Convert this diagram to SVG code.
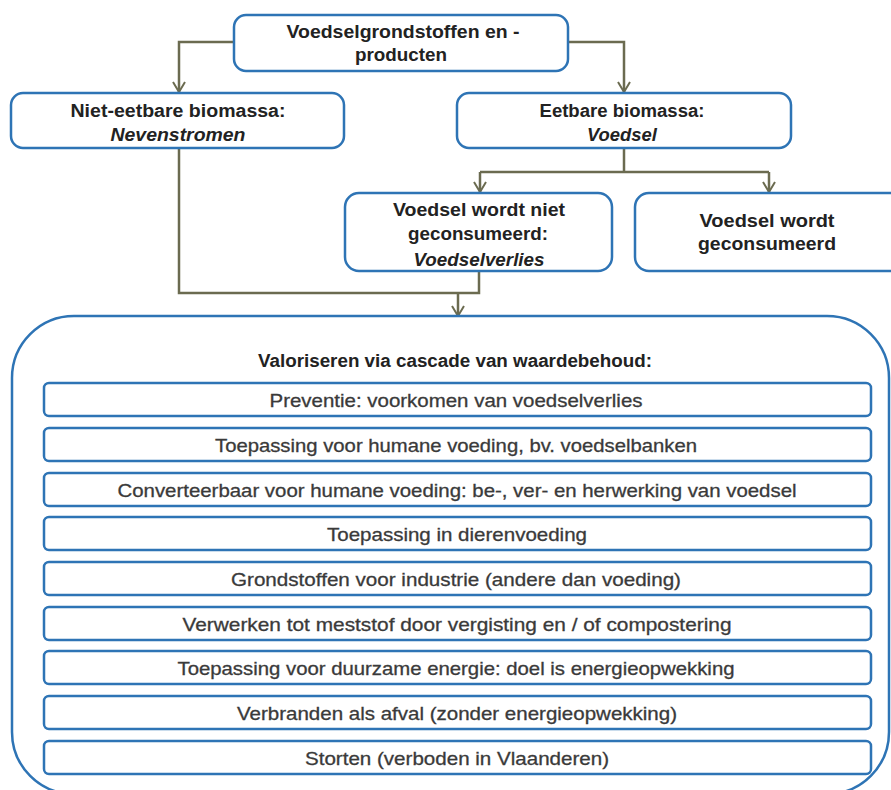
<svg xmlns="http://www.w3.org/2000/svg" width="891" height="790" viewBox="0 0 891 790">
<defs>
<style>
.box{fill:#fff;stroke:#2e74b5;stroke-width:2.5}
.row{fill:#fff;stroke:#2e74b5;stroke-width:2.5}
.hd{font-family:"Liberation Sans",Arial,sans-serif;font-size:18px;font-weight:bold;fill:#222;text-anchor:middle}
.it{font-style:italic}
.rt{font-family:"Liberation Sans",Arial,sans-serif;font-size:18.5px;fill:#3a3a3a;text-anchor:middle;stroke:#3a3a3a;stroke-width:0.3}
.con{fill:none;stroke:#6b6b50;stroke-width:2.5}
</style>
<marker id="arr" viewBox="0 0 12 14" refX="11" refY="7" markerWidth="12" markerHeight="14" markerUnits="userSpaceOnUse" orient="auto">
<path d="M1,1 L11,7 L1,13" fill="none" stroke="#6b6b50" stroke-width="2"/>
</marker>
</defs>
<rect width="891" height="790" fill="#fff"/>

<g id="connectors">
<path class="con" d="M234,42 H179 V92" marker-end="url(#arr)"/>
<path class="con" d="M568,42 H624 V92" marker-end="url(#arr)"/>
<path class="con" d="M624,148 V172"/>
<path class="con" d="M480,172 H769"/>
<path class="con" d="M480,172 V192" marker-end="url(#arr)"/>
<path class="con" d="M769,172 V192" marker-end="url(#arr)"/>
<path class="con" d="M179,148 V293 H479 V271"/>
<path class="con" d="M458,293 V316" marker-end="url(#arr)"/>
</g>

<g id="n-top">
<rect class="box" x="234" y="15" width="334" height="56" rx="12"/>
<text class="hd" x="403" y="38" textLength="233" lengthAdjust="spacingAndGlyphs">Voedselgrondstoffen en -</text>
<text class="hd" x="401" y="61" textLength="92" lengthAdjust="spacingAndGlyphs">producten</text>
</g>

<g id="n-niet-eetbaar">
<rect class="box" x="11" y="93" width="333" height="55" rx="12"/>
<text class="hd" x="178" y="117" textLength="215" lengthAdjust="spacingAndGlyphs">Niet-eetbare biomassa:</text>
<text class="hd it" x="178" y="141" textLength="135" lengthAdjust="spacingAndGlyphs">Nevenstromen</text>
</g>

<g id="n-eetbaar">
<rect class="box" x="457" y="93" width="334" height="55" rx="12"/>
<text class="hd" x="622" y="117" textLength="165" lengthAdjust="spacingAndGlyphs">Eetbare biomassa:</text>
<text class="hd it" x="622" y="141" textLength="70" lengthAdjust="spacingAndGlyphs">Voedsel</text>
</g>

<g id="n-verlies">
<rect class="box" x="345" y="193" width="267" height="78" rx="14"/>
<text class="hd" x="479" y="216" textLength="172" lengthAdjust="spacingAndGlyphs">Voedsel wordt niet</text>
<text class="hd" x="478" y="240" textLength="140" lengthAdjust="spacingAndGlyphs">geconsumeerd:</text>
<text class="hd it" x="479" y="266" textLength="131" lengthAdjust="spacingAndGlyphs">Voedselverlies</text>
</g>

<g id="n-geconsumeerd">
<rect class="box" x="635" y="193" width="270" height="78" rx="14"/>
<text class="hd" x="767" y="227" textLength="135" lengthAdjust="spacingAndGlyphs">Voedsel wordt</text>
<text class="hd" x="767" y="250" textLength="138" lengthAdjust="spacingAndGlyphs">geconsumeerd</text>
</g>

<g id="n-cascade">
<rect class="box" x="12" y="316" width="877" height="478" rx="62"/>
<text class="hd" x="455" y="367" textLength="394" lengthAdjust="spacingAndGlyphs">Valoriseren via cascade van waardebehoud:</text>
</g>

<g id="r1"><rect class="row" x="44" y="383" width="827" height="33" rx="5"/><text class="rt" x="456" y="407" textLength="373" lengthAdjust="spacingAndGlyphs">Preventie: voorkomen van voedselverlies</text></g>
<g id="r2"><rect class="row" x="44" y="428" width="827" height="33" rx="5"/><text class="rt" x="456" y="452" textLength="482" lengthAdjust="spacingAndGlyphs">Toepassing voor humane voeding, bv. voedselbanken</text></g>
<g id="r3"><rect class="row" x="44" y="473" width="827" height="33" rx="5"/><text class="rt" x="457" y="497" textLength="679" lengthAdjust="spacingAndGlyphs">Converteerbaar voor humane voeding: be-, ver- en herwerking van voedsel</text></g>
<g id="r4"><rect class="row" x="44" y="517" width="827" height="33" rx="5"/><text class="rt" x="457" y="541" textLength="260" lengthAdjust="spacingAndGlyphs">Toepassing in dierenvoeding</text></g>
<g id="r5"><rect class="row" x="44" y="562" width="827" height="33" rx="5"/><text class="rt" x="456" y="586" textLength="450" lengthAdjust="spacingAndGlyphs">Grondstoffen voor industrie (andere dan voeding)</text></g>
<g id="r6"><rect class="row" x="44" y="607" width="827" height="33" rx="5"/><text class="rt" x="457" y="631" textLength="549" lengthAdjust="spacingAndGlyphs">Verwerken tot meststof door vergisting en / of compostering</text></g>
<g id="r7"><rect class="row" x="44" y="651" width="827" height="33" rx="5"/><text class="rt" x="456" y="675" textLength="557" lengthAdjust="spacingAndGlyphs">Toepassing voor duurzame energie: doel is energieopwekking</text></g>
<g id="r8"><rect class="row" x="44" y="696" width="827" height="33" rx="5"/><text class="rt" x="457" y="720" textLength="440" lengthAdjust="spacingAndGlyphs">Verbranden als afval (zonder energieopwekking)</text></g>
<g id="r9"><rect class="row" x="44" y="741" width="827" height="33" rx="5"/><text class="rt" x="457" y="765" textLength="304" lengthAdjust="spacingAndGlyphs">Storten (verboden in Vlaanderen)</text></g>
</svg>
